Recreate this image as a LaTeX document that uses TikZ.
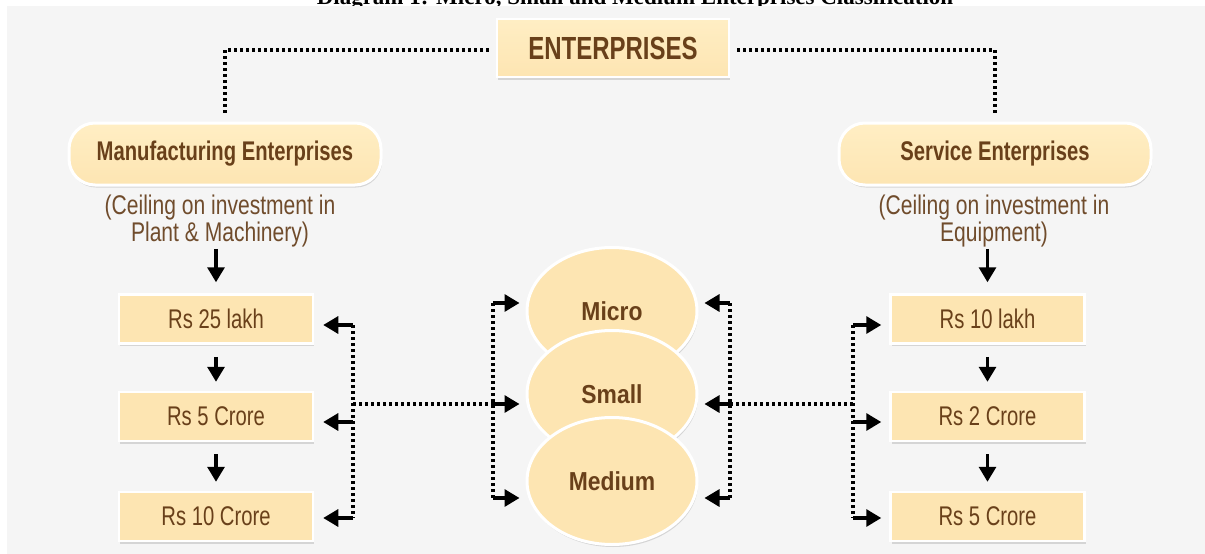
\documentclass[tikz,border=0pt]{standalone}
\usepackage{fontspec}
\setmainfont{Liberation Sans}
\newfontfamily\nar[FakeStretch=0.75]{Liberation Sans}
\newfontfamily\narsub[FakeStretch=0.78]{Liberation Sans}
\newfontfamily\elf[FakeStretch=0.88]{Liberation Sans}
\newfontfamily\ttl{Liberation Serif}
\usetikzlibrary{shapes.geometric,arrows.meta,shadows}
\definecolor{bg}{RGB}{245,245,245}
\definecolor{peach}{RGB}{253,229,178}
\definecolor{peachtop}{RGB}{255,238,196}
\definecolor{brn}{RGB}{105,64,26}
\definecolor{brn2}{RGB}{112,76,44}
\begin{document}
\begin{tikzpicture}[x=1pt,y=-1pt,
 shad/.style={drop shadow={shadow xshift=1pt,shadow yshift=-2.5pt,fill=black,opacity=0.13}},
 box/.style={shad, fill=peach, draw=white, line width=2.5pt, minimum width=194pt, minimum height=49pt, inner sep=0pt, text=brn, font=\nar\fontsize{27}{27}\selectfont},
 topbox/.style={shad, top color=peachtop, bottom color=peach, draw=white, line width=2.5pt, minimum width=232pt, minimum height=58pt, inner sep=0pt, text=brn, font=\nar\bfseries\fontsize{32}{32}\selectfont},
 pill/.style={shad, top color=peachtop, bottom color=peach, draw=white, line width=3pt, rounded corners=26pt, minimum width=312pt, minimum height=62pt, inner sep=0pt, text=brn, font=\nar\bfseries\fontsize{27}{27}\selectfont},
 oval/.style={shad, ellipse, fill=peach, draw=white, line width=3pt, minimum width=170pt, minimum height=127pt, inner sep=0pt, text=brn, font=\elf\bfseries\fontsize{26}{26}\selectfont},
 sub/.style={align=center, text=brn2, font=\narsub\fontsize{27}{22}\selectfont, inner sep=0pt},
 dots/.style={line width=3.4pt, dash pattern=on 3pt off 3pt},
 arr/.style={line width=3.2pt, -{Triangle[width=17pt,length=15pt]}},
]
\useasboundingbox (0,0) rectangle (1205,554);
\fill[white] (0,0) rectangle (1205,554);
\begin{scope}
\clip (0,0) rectangle (1205,6);
\node[anchor=base, inner sep=0pt, font=\ttl\bfseries\fontsize{23}{23}\selectfont] (title) at (635,4.5) {Diagram 1: Micro, Small and Medium Enterprises Classification};
\end{scope}
\fill[bg] (7,6) rectangle (1205,554);

% top
\node[topbox] (ent) at (613,48) {ENTERPRISES};
\node[pill] (mfg) at (225,154) {Manufacturing Enterprises};
\node[pill] (srv) at (995,154) {Service Enterprises};
\node[sub] (msub) at (220,221) {(Ceiling on investment in\\Plant \& Machinery)};
\node[sub] (ssub) at (994,221) {(Ceiling on investment in\\Equipment)};

\draw[dots] ([xshift=-7pt,yshift=-2pt]ent.west) -| ([yshift=7pt]mfg.north);
\draw[dots] ([xshift=7pt,yshift=-2pt]ent.east) -| ([yshift=7pt]srv.north);

% left boxes
\node[box] (L1) at (216,319) {Rs 25 lakh};
\node[box] (L2) at (216,416.5) {Rs 5 Crore};
\node[box] (L3) at (216,516.5) {Rs 10 Crore};
% right boxes
\node[box] (R1) at (987.5,319) {Rs 10 lakh};
\node[box] (R2) at (987.5,416.5) {Rs 2 Crore};
\node[box] (R3) at (987.5,516.5) {Rs 5 Crore};

% ovals
\node[oval] (micro) at (612,311) {Micro};
\node[oval] (small) at (612,394) {Small};
\node[oval] (medium) at (612,481) {Medium};

% vertical arrows
\draw[arr, shorten <=2pt, shorten >=11pt] (L1.north |- msub.south) -- (L1.north);
\draw[arr, shorten <=12pt, shorten >=9pt] (L1.south) -- (L2.north);
\draw[arr, shorten <=12pt, shorten >=9pt] (L2.south) -- (L3.north);
\draw[arr, shorten <=2pt, shorten >=11pt] (R1.north |- ssub.south) -- (R1.north);
\draw[arr, shorten <=12pt, shorten >=9pt] (R1.south) -- (R2.north);
\draw[arr, shorten <=12pt, shorten >=9pt] (R2.south) -- (R3.north);

% connector coordinates
\coordinate (lv1) at (353,325);
\coordinate (lv2) at (353,422);
\coordinate (lv3) at (353,518);
\coordinate (lh) at (353,404);
\coordinate (ml1) at (493,303);
\coordinate (ml2) at (493,404);
\coordinate (ml3) at (493,498);
\coordinate (mr1) at (730,303);
\coordinate (mr2) at (730,404);
\coordinate (mr3) at (730,498);
\coordinate (rh) at (853,404);
\coordinate (rv1) at (853,325);
\coordinate (rv2) at (853,422);
\coordinate (rv3) at (853,518);

% dotted connectors
\draw[dots] (lv1) -- (lv3);
\draw[dots] (lh) -- (ml2);
\draw[dots] (ml1) -- (ml3);
\draw[dots] (mr1) -- (mr3);
\draw[dots] (mr2) -- (rh);
\draw[dots] (rv1) -- (rv3);

% horizontal arrows
\foreach \c/\n in {lv1/L1, lv2/L2, lv3/L3}
  \draw[arr, shorten >=9pt] (\c) -- (\n.east |- \c);
\foreach \c/\n in {rv1/R1, rv2/R2, rv3/R3}
  \draw[arr, shorten >=8pt] (\c) -- (\n.west |- \c);
\draw[arr, shorten >=6pt] (ml1) -- (micro.west |- ml1);
\draw[arr, shorten >=6pt] (ml2) -- (small.west |- ml2);
\draw[arr, shorten >=6pt] (ml3) -- (medium.west |- ml3);
\draw[arr, shorten >=6pt] (mr1) -- (micro.east |- mr1);
\draw[arr, shorten >=6pt] (mr2) -- (small.east |- mr2);
\draw[arr, shorten >=6pt] (mr3) -- (medium.east |- mr3);
\end{tikzpicture}
\end{document}
